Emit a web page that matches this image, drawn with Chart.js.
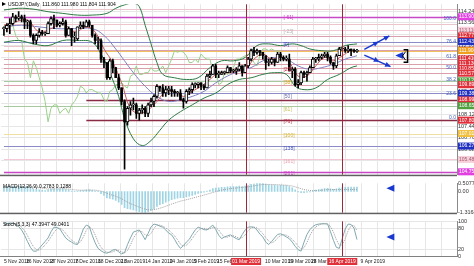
<!DOCTYPE html>
<html>
<head>
<meta charset="utf-8">
<script src="https://cdn.jsdelivr.net/npm/chart.js@4.4.1/dist/chart.umd.min.js"></script>
<style>
  html, body { margin: 0; padding: 0; background: #fff; overflow: hidden; }
  #wrap { position: relative; width: 474px; height: 266px; }
  #wrap canvas { position: absolute; left: 0; }
</style>
</head>
<body>
<div id="wrap">
  <canvas id="mainChart" width="474" height="179" style="top:0"></canvas>
  <canvas id="macdChart" width="474" height="38" style="top:179px"></canvas>
  <canvas id="stochChart" width="474" height="49" style="top:217px"></canvas>
</div>
<script>
// USDJPY daily bars, index 0 = 5 Nov 2018
const opens = [
  113.2,113.2,113.4,113.5,113.9,113.8,113.9,113.8,113.6,113.6,
  112.8,112.5,112.8,113.0,112.9,112.9,113.5,113.8,113.7,113.4,
  113.5,113.6,112.8,113.2,112.7,112.6,113.3,113.4,113.3,113.6,
  113.4,112.8,112.5,112.5,111.4,111.2,110.3,111.3,110.9,110.3,
  109.7,108.9,107.7,108.5,108.7,108.7,108.2,108.4,108.5,108.2,
  108.7,108.9,109.2,109.8,109.7,109.4,109.6,109.6,109.5,109.4,
  109.4,109.0,108.9,109.5,109.6,109.9,109.9,110.0,109.8,109.7,
  110.4,110.5,111.0,110.5,110.5,110.6,110.6,110.9,110.7,110.7,
  110.8,111.0,110.6,111.0,111.4,111.9,111.8,111.9,111.8,111.6,
  111.2,111.2,111.4,111.2,111.7,111.5,111.4,111.4,110.7,110.8,
  109.9,110.0,110.6,110.5,110.6,110.9,111.4,111.4,111.5,111.6,
  111.7,111.5,111.2,111.0,111.6,112.0,112.0,111.9,112.0,111.9,
  111.86
];
const highs = [
  113.3,113.5,113.8,114.1,114.0,114.2,114.0,114.0,113.7,113.7,
  112.9,112.9,113.2,113.1,113.0,113.6,113.9,114.0,113.7,113.6,
  113.8,113.7,113.3,113.2,113.0,113.3,113.6,113.6,113.7,113.7,
  113.4,112.9,112.7,112.6,111.5,111.2,111.4,111.4,110.9,110.5,
  109.7,109.0,108.6,108.9,109.1,108.8,108.5,108.7,108.6,108.8,
  109.1,109.3,109.9,109.8,109.9,109.8,109.8,109.8,109.6,109.5,
  109.6,109.1,109.6,109.7,110.0,110.0,110.0,110.0,109.9,110.5,
  110.7,111.1,111.1,110.7,110.7,110.7,111.0,110.9,110.8,110.9,
  111.2,111.0,111.1,111.5,112.0,112.1,112.0,111.9,111.8,111.6,
  111.4,111.5,111.4,111.8,111.8,111.6,111.6,111.7,110.9,110.9,
  110.2,110.7,110.7,110.7,111.0,111.5,111.5,111.7,111.7,111.8,
  111.8,111.6,111.2,111.7,112.1,112.1,112.1,112.2,112.0,112.0,
  111.98
];
const lows = [
  112.8,113.0,112.9,113.4,113.6,113.7,113.6,113.2,113.2,112.7,
  112.3,112.3,112.7,112.8,112.8,112.9,113.4,113.2,113.3,113.3,
  113.4,112.7,112.8,112.2,112.4,112.5,113.2,113.2,113.3,113.3,
  112.7,112.3,112.0,111.2,110.9,110.2,110.2,110.6,110.3,109.6,
  108.7,104.9,107.5,108.1,108.4,107.9,107.8,108.2,108.0,108.0,
  108.6,108.6,109.1,109.5,109.2,109.2,109.3,109.2,109.2,109.2,
  109.0,108.5,108.8,109.3,109.4,109.7,109.7,109.6,109.6,109.7,
  110.3,110.5,110.3,110.3,110.5,110.5,110.6,110.6,110.6,110.5,
  110.7,110.4,110.6,110.9,111.3,111.6,111.7,111.6,111.4,110.8,
  111.0,111.1,111.0,111.2,111.3,111.3,111.3,110.7,110.3,109.8,
  109.7,109.9,110.3,110.1,110.6,110.9,111.2,111.3,111.4,111.5,
  111.3,111.1,110.8,110.9,111.6,111.9,111.8,111.8,111.6,111.8,
  111.80
];
const closes = [
  113.2,113.4,113.5,113.9,113.8,113.9,113.8,113.6,113.6,112.8,
  112.5,112.8,113.0,112.9,112.9,113.5,113.8,113.7,113.4,113.5,
  113.6,112.8,113.2,112.7,112.7,113.3,113.4,113.3,113.6,113.4,
  112.8,112.5,112.5,111.4,111.2,110.3,111.3,110.9,110.3,109.7,
  108.9,107.7,108.5,108.7,108.7,108.2,108.4,108.5,108.2,108.7,
  108.9,109.2,109.8,109.7,109.4,109.6,109.6,109.5,109.4,109.4,
  109.0,108.9,109.5,109.6,109.9,109.9,110.0,109.8,109.7,110.4,
  110.5,111.0,110.5,110.5,110.6,110.6,110.9,110.7,110.7,110.8,
  111.0,110.6,111.0,111.4,111.9,111.8,111.9,111.8,111.6,111.2,
  111.2,111.4,111.2,111.7,111.5,111.4,111.4,110.7,110.8,109.9,
  110.0,110.6,110.5,110.6,110.9,111.4,111.4,111.5,111.6,111.7,
  111.5,111.2,111.0,111.6,112.0,112.0,111.9,112.0,111.9,111.86,
  111.904
];

// lagging line (light green), starts at bar 0
const laggingLine = [
  113.4,113.3,113.6,113.4,112.8,112.5,112.5,111.4,111.2,110.3,
  111.3,110.9,110.3,109.7,108.9,107.7,108.5,108.7,108.7,108.2,
  108.4,108.5,108.2,108.7,108.9,109.2,109.8,109.7,109.4,109.6,
  109.6,109.5,109.4,109.4,109.0,108.9,109.5,109.6,109.9,109.9,
  110.0,109.8,109.7,110.4,110.5,111.0,110.5,110.5,110.6,110.6,
  110.9,110.7,110.7,110.8,111.0,110.6,111.0,111.4,111.9,111.8,
  111.9,111.8,111.6,111.2,111.2,111.4,111.2,111.7,111.5,111.4,
  111.4,110.7,110.8,109.9,110.0,110.6,110.5,110.6,110.9,111.4,
  111.4,111.5,111.6,111.7,111.5,111.2,111.0,111.6,112.0,112.0,
  111.9,112.0,111.9,111.86,111.904
];

// band / average lines as [bar, price]
const upperBand = [[0,114.3],[5,114.4],[10,114.35],[15,114.2],[20,114.1],[25,114.0],[30,114.0],[35,114.1],[38,114.4],[41,114.6],[44,114.7],[46,114.5],[48,113.4],[50,112.3],[52,111.2],[54,110.5],[58,110.3],[62,110.2],[66,110.3],[70,110.9],[74,111.3],[78,111.3],[82,111.5],[86,112.2],[90,112.3],[94,112.2],[98,112.3],[101,112.2],[104,112.0],[108,111.9],[112,111.9],[116,112.2],[120,112.3]];
const lowerBand = [[0,112.4],[5,112.5],[10,112.3],[15,112.2],[20,112.5],[25,112.5],[30,112.4],[33,111.7],[36,110.6],[39,109.2],[41,107.9],[44,106.7],[47,106.3],[50,106.6],[53,107.2],[56,107.8],[60,108.3],[64,108.7],[68,109.1],[72,109.4],[76,109.9],[80,110.2],[84,110.3],[88,110.5],[92,110.6],[96,110.5],[99,109.8],[102,109.6],[106,109.7],[110,110.2],[114,110.5],[118,110.9],[120,111.0]];
const fastAverage = [[0,113.4],[4,113.6],[8,113.7],[12,113.0],[16,113.2],[20,113.5],[24,113.0],[28,113.3],[31,113.0],[34,112.0],[37,111.2],[40,110.0],[43,108.5],[46,108.2],[49,108.4],[52,108.9],[55,109.5],[58,109.5],[61,109.2],[64,109.5],[67,109.8],[70,110.2],[73,110.6],[76,110.6],[79,110.7],[82,110.8],[85,111.4],[88,111.7],[91,111.4],[94,111.5],[97,111.2],[100,110.4],[103,110.4],[106,111.0],[109,111.5],[112,111.3],[115,111.6],[118,111.9],[120,111.9]];
const slowAverage = [[0,113.3],[6,113.4],[12,113.3],[18,113.2],[24,113.2],[30,113.2],[34,112.8],[38,112.0],[41,111.3],[44,110.6],[48,109.8],[52,109.2],[56,108.9],[60,109.0],[64,109.2],[68,109.5],[72,110.0],[76,110.4],[80,110.7],[84,110.9],[88,111.3],[92,111.5],[96,111.4],[100,111.0],[104,110.8],[108,110.9],[112,111.1],[116,111.4],[120,111.6]];

// MACD(12,26,9)
const macdMain = [
  0.30,0.30,0.30,0.33,0.33,0.34,0.34,0.32,0.30,0.24,
  0.17,0.13,0.11,0.08,0.06,0.10,0.15,0.17,0.17,0.17,
  0.18,0.12,0.10,0.03,-0.01,0.02,0.05,0.06,0.10,0.11,
  0.07,0.02,-0.01,-0.14,-0.25,-0.40,-0.43,-0.48,-0.56,-0.66,
  -0.80,-1.00,-1.06,-1.10,-1.14,-1.20,-1.25,-1.30,-1.3168,-1.27,
  -1.18,-1.08,-0.93,-0.82,-0.75,-0.66,-0.58,-0.51,-0.46,-0.41,
  -0.39,-0.39,-0.33,-0.29,-0.24,-0.18,-0.12,-0.08,-0.05,0.02,
  0.09,0.18,0.21,0.23,0.25,0.26,0.29,0.30,0.30,0.31,
  0.33,0.31,0.33,0.37,0.45,0.48,0.50,0.5077,0.50,0.46,
  0.42,0.40,0.38,0.37,0.38,0.38,0.36,0.30,0.22,0.10,
  -0.02,-0.08,-0.07,-0.05,-0.02,0.04,0.08,0.12,0.15,0.18,
  0.19,0.17,0.13,0.16,0.21,0.24,0.26,0.28,0.28,0.28,
  0.2783
];
const macdSignal = [
  0.28,0.28,0.29,0.29,0.30,0.31,0.31,0.32,0.31,0.30,
  0.28,0.25,0.23,0.20,0.17,0.16,0.16,0.16,0.16,0.16,
  0.17,0.16,0.15,0.13,0.10,0.09,0.08,0.08,0.08,0.09,
  0.09,0.08,0.06,0.02,-0.04,-0.11,-0.18,-0.24,-0.30,-0.37,
  -0.45,-0.56,-0.66,-0.75,-0.83,-0.90,-0.97,-1.04,-1.10,-1.13,
  -1.14,-1.13,-1.09,-1.04,-0.98,-0.92,-0.85,-0.78,-0.72,-0.66,
  -0.60,-0.56,-0.51,-0.47,-0.42,-0.37,-0.32,-0.27,-0.22,-0.17,
  -0.12,-0.06,-0.01,0.04,0.08,0.12,0.15,0.18,0.20,0.22,
  0.24,0.26,0.27,0.29,0.32,0.35,0.38,0.41,0.43,0.44,
  0.44,0.44,0.43,0.42,0.41,0.40,0.39,0.37,0.34,0.29,
  0.23,0.17,0.12,0.09,0.06,0.05,0.06,0.07,0.08,0.10,
  0.11,0.12,0.12,0.12,0.12,0.12,0.12,0.12,0.125,0.127,
  0.1288
];

// Stochastic(5,3,3)
const stochMain = [
  92,93,95,95,90,85,75,60,42,25,
  14,14,22,32,42,52,70,83,82,78,
  65,52,45,40,35,33,55,78,89,85,
  60,38,22,15,10,8,12,17,19,12,
  6,10,33,52,69,72,75,62,47,65,
  84,92,90,86,83,75,66,61,48,33,
  22,30,40,48,62,75,83,80,76,75,
  82,89,76,60,50,55,58,61,55,50,
  47,62,75,83,84,83,75,63,55,40,
  33,42,52,62,64,60,55,50,40,28,
  18,14,40,62,76,85,90,92,93,93,
  92,70,45,25,22,50,78,92,91,80,
  47.39
];
const stochSignal = [
  88,90,92,94,93,90,83,73,59,42,
  27,18,17,23,32,42,55,68,78,81,
  75,65,54,46,40,36,41,55,74,84,
  78,61,40,25,16,11,10,12,16,16,
  12,9,16,32,51,64,72,70,61,58,
  65,80,89,89,86,81,75,67,58,47,
  34,28,31,39,50,62,73,79,80,77,
  78,82,82,75,62,55,54,58,58,55,
  51,53,61,73,81,83,81,74,64,53,
  43,38,42,52,59,62,60,55,48,39,
  29,20,24,39,59,74,84,89,92,93,
  93,85,69,47,31,32,50,73,87,88,
  73
];

// horizontal levels with price boxes on the axis
const levelPrices = [114.35,113.90,113.45,113.11,112.77,112.43,112.15,111.92,111.904,111.41,111.13,110.85,110.57,110.12,109.89,109.38,108.99,108.65,107.80,107.01,106.27,105.48,104.75];
const levelKinds  = ['pink','magenta','pink','lightpink','red','blue','pink','red','orange','red','red','red','red','green','red','blue','dark','green','dark','yellow','blue','lightpink','magenta'];
const levelStartBar = [0,0,0,0,0,0,0,0,0,0,0,0,0,0,0,0,28,0,28,0,0,0,0];

// fibonacci retracement labels
const fibTexts  = ['100.0','76.4','61.8','50.0','38.2','23.6','0.0'];
const fibPrices = [113.62,112.25,111.40,110.71,110.02,109.17,107.80];

// bracket tags near bar 95
const tagTexts  = ['[-61]','[-23]','[0]','[23]','[38]','[50]','[61]','[76]','[100]','[138]','[161]','[261]'];
const tagPrices = [113.84,113.05,112.26,110.79,110.00,109.16,108.42,107.69,106.90,106.10,105.37,104.64];
const tagColors = ['#d040c8','#b0b0b0','#3040c0','#c03040','#e0a020','#7070b0','#c8c060','#c03040','#d0b040','#4050c0','#f0a0b0','#d040c8'];

// vertical lines (bar positions) and date axis
const vLineBars = [82.3, 115];
const vLineTexts = ['01 Mar 2019', '16 Apr 2019'];
const dateLabels = ['5 Nov 2018','16 Nov 2018','27 Nov 2018','7 Dec 2018','18 Dec 2018','2 Jan 2019','14 Jan 2019','24 Jan 2019','5 Feb 2019','15 Feb 2019','10 Mar 2019','19 Mar 2019','28 Mar 2019','9 Apr 2019'];
const dateBars = [0, 7.5, 15.7, 24.2, 32, 39.6, 48, 56.3, 64.5, 72.4, 88.7, 96.6, 104.4, 121.2];

// price ticks on the right axis
const priceTicks = [114.24,113.56,112.88,112.20,111.52,110.84,110.16,109.48,108.80,108.12,107.44,106.76,106.08,105.40];

// forecast arrows [bar, price] -> [bar, price]
const arrowLines = [[[122.5,111.98],[131.0,112.77]], [[122.5,111.64],[131.4,110.96]]];

const X_MIN = -1.0, X_MAX = 154.0;
const FONT = 'Liberation Sans';
const GRID = '#e6e6e6';
const AXIS_W = 17;

const KIND = {
  red:       { line: '#dca0ac', box: '#e0303a' },
  dark:      { line: '#8a2a44', box: '#e0303a' },
  pink:      { line: '#ecc4cc', box: null },
  lightpink: { line: '#f4c8d4', box: '#f8d0dc' },
  magenta:   { line: '#c848c8', box: '#e040e0' },
  blue:      { line: '#8c8cc8', box: '#2030c0' },
  green:     { line: '#a8c8a0', box: '#50a040' },
  orange:    { line: '#f0c060', box: '#f0a020' },
  yellow:    { line: '#eee0a0', box: '#f0c040' }
};

Chart.defaults.font.family = FONT;
Chart.defaults.font.size = 6;
Chart.defaults.animation = false;
Chart.defaults.responsive = false;
Chart.defaults.plugins.legend.display = false;
Chart.defaults.plugins.tooltip.enabled = false;

const barIndex = closes.map((_, i) => i);

/**
 * Shared x scale: bar numbers, vertical grid only
 */
function makeX() {
  return {
    type: 'linear', min: X_MIN, max: X_MAX, offset: false,
    ticks: { display: false },
    border: { display: false },
    grid: { color: GRID, drawTicks: false, offset: false },
    afterBuildTicks: s => {
      const t = [];
      for (let v = 1.4; v < X_MAX; v += 5.46) t.push({ value: v });
      s.ticks = t;
    }
  };
}

function makeY(min, max, tickValues, fmt, showGrid) {
  return {
    position: 'right', min: min, max: max,
    afterFit: s => { s.width = AXIS_W; },
    afterBuildTicks: s => { s.ticks = tickValues.map(v => ({ value: v })); },
    ticks: { autoSkip: false, padding: 1, color: '#333', font: { size: 5.5 }, callback: fmt },
    grid: { display: showGrid, color: GRID, drawTicks: false },
    border: { display: true, color: '#8a8a8a' }
  };
}

// vertical red lines through every panel
const vLinePlugin = {
  id: 'vlines',
  afterDatasetsDraw(chart) {
    const { ctx, chartArea, scales } = chart;
    ctx.save();
    ctx.strokeStyle = '#9a2a3a';
    ctx.lineWidth = 1;
    vLineBars.forEach(b => {
      const x = Math.round(scales.x.getPixelForValue(b)) + 0.5;
      ctx.beginPath();
      ctx.moveTo(x, chartArea.top);
      ctx.lineTo(x, chartArea.bottom);
      ctx.stroke();
    });
    ctx.restore();
  }
};

function arrowHead(ctx, x, y, ang, size) {
  ctx.beginPath();
  ctx.moveTo(x, y);
  ctx.lineTo(x - size * Math.cos(ang - 0.45), y - size * Math.sin(ang - 0.45));
  ctx.lineTo(x - size * Math.cos(ang + 0.45), y - size * Math.sin(ang + 0.45));
  ctx.closePath();
  ctx.fill();
}

function leftTriangle(ctx, x, y) {
  ctx.beginPath();
  ctx.moveTo(x, y);
  ctx.lineTo(x + 8, y - 3.5);
  ctx.lineTo(x + 8, y + 3.5);
  ctx.closePath();
  ctx.fill();
}

// main panel decorations: levels, labels, arrows, header
const mainPlugin = {
  id: 'mainDecor',
  beforeDatasetsDraw(chart) {
    const { ctx, chartArea, scales } = chart;
    ctx.save();
    levelPrices.forEach((p, i) => {
      const k = KIND[levelKinds[i]];
      const y = Math.round(scales.y.getPixelForValue(p)) + 0.5;
      ctx.strokeStyle = k.line;
      ctx.lineWidth = levelKinds[i] === 'dark' || levelKinds[i] === 'magenta' ? 1.5 : 1;
      ctx.beginPath();
      ctx.moveTo(scales.x.getPixelForValue(levelStartBar[i]), y);
      ctx.lineTo(chartArea.right, y);
      ctx.stroke();
    });
    ctx.restore();
  },
  afterDraw(chart) {
    const { ctx, chartArea, scales } = chart;
    ctx.save();
    // axis price boxes
    ctx.font = '5px ' + FONT;
    ctx.textBaseline = 'middle';
    levelPrices.forEach((p, i) => {
      const k = KIND[levelKinds[i]];
      if (!k.box) return;
      const y = scales.y.getPixelForValue(p);
      ctx.fillStyle = k.box;
      ctx.fillRect(chartArea.right + 1, y - 3.5, AXIS_W - 1, 7);
      ctx.fillStyle = levelKinds[i] === 'lightpink' ? '#a06070' : '#ffffff';
      ctx.fillText(p.toFixed(3), chartArea.right + 2, y);
    });
    // fibo percentages
    ctx.fillStyle = '#4060c0';
    ctx.textAlign = 'right';
    fibPrices.forEach((p, i) => {
      ctx.fillText(fibTexts[i], chartArea.right - 1, scales.y.getPixelForValue(p) - 3);
    });
    // bracket tags
    ctx.textAlign = 'left';
    tagPrices.forEach((p, i) => {
      ctx.fillStyle = tagColors[i];
      ctx.fillText(tagTexts[i], scales.x.getPixelForValue(95), scales.y.getPixelForValue(p));
    });
    // forecast arrows
    ctx.strokeStyle = '#1838d0';
    ctx.fillStyle = '#1838d0';
    ctx.lineWidth = 1.5;
    arrowLines.forEach(a => {
      const x1 = scales.x.getPixelForValue(a[0][0]), y1 = scales.y.getPixelForValue(a[0][1]);
      const x2 = scales.x.getPixelForValue(a[1][0]), y2 = scales.y.getPixelForValue(a[1][1]);
      const ang = Math.atan2(y2 - y1, x2 - x1);
      ctx.beginPath();
      ctx.moveTo(x1, y1);
      ctx.lineTo(x2, y2);
      ctx.stroke();
      arrowHead(ctx, (x1 + x2) / 2 + 2 * Math.cos(ang), (y1 + y2) / 2 + 2 * Math.sin(ang), ang, 6);
      arrowHead(ctx, x2, y2, ang, 6);
    });
    leftTriangle(ctx, scales.x.getPixelForValue(133), scales.y.getPixelForValue(111.62));
    // bracket after the triangle
    const bx = scales.x.getPixelForValue(137.2);
    const bt = scales.y.getPixelForValue(111.96), bb = scales.y.getPixelForValue(111.22);
    ctx.strokeStyle = '#000';
    ctx.lineWidth = 1.5;
    ctx.beginPath();
    ctx.moveTo(bx - 4, bt); ctx.lineTo(bx, bt); ctx.lineTo(bx, bb); ctx.lineTo(bx - 4, bb);
    ctx.stroke();
    ctx.lineWidth = 1;
    ctx.beginPath();
    ctx.moveTo(bx - 2, bt + 2); ctx.lineTo(bx - 5, (bt + bb) / 2);
    ctx.moveTo(bx - 2, bb - 2); ctx.lineTo(bx - 5, (bt + bb) / 2);
    ctx.stroke();
    // header
    ctx.fillStyle = '#000';
    ctx.beginPath();
    ctx.moveTo(2, 2); ctx.lineTo(6, 4); ctx.lineTo(2, 6); ctx.closePath();
    ctx.fill();
    ctx.font = '5px ' + FONT;
    ctx.fillText('USDJPY,Daily  111.860 111.980 111.804 111.904', 8, 4.5);
    // panel bottom border
    ctx.fillStyle = '#606060';
    ctx.fillRect(0, chartArea.bottom, chartArea.right, 1.5);
    ctx.restore();
  }
};

/**
 * Main price panel
 */
function createMainChart() {
  const wicks = barIndex.map(i => ({ x: i, y: [lows[i], highs[i]] }));
  const upBodies = barIndex.filter(i => closes[i] >= opens[i]).map(i => ({ x: i, y: [opens[i], closes[i]] }));
  const downBodies = barIndex.filter(i => closes[i] < opens[i]).map(i => ({ x: i, y: [closes[i], opens[i]] }));
  const pts = arr => arr.map(p => ({ x: p[0], y: p[1] }));

  new Chart(document.getElementById('mainChart'), {
    type: 'bar',
    data: {
      datasets: [
        { type: 'bar', data: wicks, backgroundColor: '#000', barThickness: 1, grouped: false, order: 2 },
        { type: 'bar', data: upBodies, backgroundColor: '#fff', borderColor: '#000', borderWidth: 1, borderSkipped: false, minBarLength: 1, barThickness: 3, grouped: false, order: 1 },
        { type: 'bar', data: downBodies, backgroundColor: '#000', minBarLength: 1, barThickness: 2, grouped: false, order: 1 },
        { type: 'line', data: laggingLine.map((v, i) => ({ x: i, y: v })), borderColor: '#9ad08a', borderWidth: 1, pointRadius: 0, order: 6 },
        { type: 'line', data: pts(upperBand), borderColor: '#2c7a44', borderWidth: 1, pointRadius: 0, tension: 0.4, order: 5 },
        { type: 'line', data: pts(lowerBand), borderColor: '#2c7a44', borderWidth: 1, pointRadius: 0, tension: 0.4, order: 5 },
        { type: 'line', data: pts(slowAverage), borderColor: '#8080c0', borderWidth: 1, pointRadius: 0, tension: 0.4, order: 4 },
        { type: 'line', data: pts(fastAverage), borderColor: '#c05a5a', borderWidth: 1, pointRadius: 0, tension: 0.4, order: 3 }
      ]
    },
    options: {
      layout: { padding: { left: 1, top: 0, right: 0, bottom: 0 } },
      scales: {
        x: makeX(),
        y: makeY(104.58, 114.636, priceTicks, v => v.toFixed(3), true)
      }
    },
    plugins: [mainPlugin, vLinePlugin]
  });
}

/**
 * MACD panel
 */
function createMacdChart() {
  new Chart(document.getElementById('macdChart'), {
    type: 'bar',
    data: {
      datasets: [
        { type: 'bar', data: macdMain.map((v, i) => ({ x: i, y: v })), backgroundColor: '#9ed4e4', barThickness: 1, grouped: false, order: 2 },
        { type: 'line', data: macdSignal.map((v, i) => ({ x: i, y: v })), borderColor: '#a0a0a0', borderWidth: 1, borderDash: [1, 1], pointRadius: 0, order: 1 }
      ]
    },
    options: {
      layout: { padding: { left: 1, top: 2, right: 0, bottom: 1 } },
      scales: {
        x: makeX(),
        y: makeY(-1.3168, 0.5077, [0.5077, 0, -1.3168], v => v === 0 ? '0.00' : String(v), false)
      }
    },
    plugins: [vLinePlugin, {
      id: 'macdDecor',
      afterDraw(chart) {
        const { ctx, chartArea, scales } = chart;
        ctx.save();
        ctx.fillStyle = '#000';
        ctx.font = '5px ' + FONT;
        ctx.textBaseline = 'middle';
        ctx.fillText('MACD(12,26,9) 0.2783 0.1288', 3, chartArea.top + 3);
        ctx.fillStyle = '#1838d0';
        leftTriangle(ctx, scales.x.getPixelForValue(130), scales.y.getPixelForValue(0.2));
        ctx.fillStyle = '#606060';
        ctx.fillRect(0, chartArea.bottom, chartArea.right, 1.5);
        ctx.restore();
      }
    }]
  });
}

/**
 * Stochastic panel with the date axis underneath
 */
function createStochChart() {
  new Chart(document.getElementById('stochChart'), {
    type: 'line',
    data: {
      datasets: [
        { data: stochMain.map((v, i) => ({ x: i, y: v })), borderColor: '#7fa8b0', borderWidth: 1, pointRadius: 0, order: 2 },
        { data: stochSignal.map((v, i) => ({ x: i, y: v })), borderColor: '#9a9a9a', borderWidth: 1, borderDash: [1, 1], pointRadius: 0, order: 1 }
      ]
    },
    options: {
      layout: { padding: { left: 1, top: 2, right: 0, bottom: 10 } },
      scales: {
        x: makeX(),
        y: makeY(0, 100, [100, 80, 20, 0], v => String(v), true)
      }
    },
    plugins: [vLinePlugin, {
      id: 'stochDecor',
      afterDraw(chart) {
        const { ctx, chartArea, scales } = chart;
        ctx.save();
        ctx.font = '5px ' + FONT;
        ctx.textBaseline = 'middle';
        ctx.fillStyle = '#000';
        ctx.fillText('Stoch(5,3,3) 47.3947 49.0401', 3, chartArea.top + 3);
        ctx.fillStyle = '#1838d0';
        leftTriangle(ctx, scales.x.getPixelForValue(130), scales.y.getPixelForValue(55));
        // bottom border of the plot
        ctx.fillStyle = '#808080';
        ctx.fillRect(0, chartArea.bottom, chartArea.right + 1, 1);
        // date labels
        const ly = chartArea.bottom + 5.5;
        ctx.fillStyle = '#222';
        dateLabels.forEach((t, i) => {
          ctx.fillText(t, scales.x.getPixelForValue(dateBars[i]), ly);
        });
        // red date boxes of the vertical lines
        vLineBars.forEach((b, i) => {
          const x = scales.x.getPixelForValue(b);
          ctx.fillStyle = '#e0303a';
          ctx.fillRect(x - 15, ly - 3.5, 30, 7);
          ctx.fillStyle = '#fff';
          ctx.textAlign = 'center';
          ctx.fillText(vLineTexts[i], x, ly);
          ctx.textAlign = 'left';
        });
        ctx.restore();
      }
    }]
  });
}

createMainChart();
createMacdChart();
createStochChart();
</script>
</body>
</html>
